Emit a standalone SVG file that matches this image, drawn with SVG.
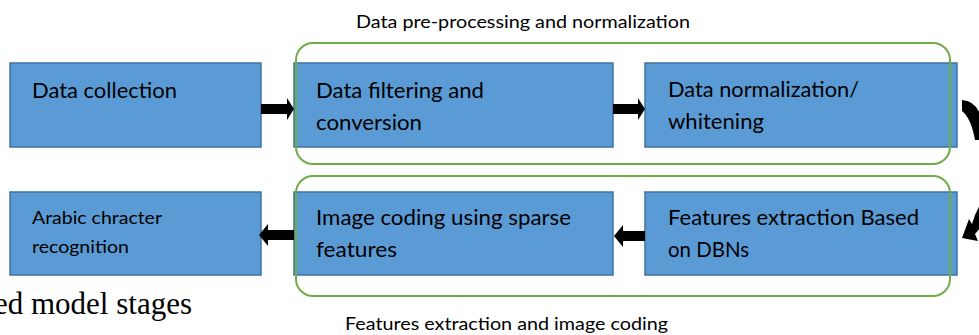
<svg xmlns="http://www.w3.org/2000/svg" width="979" height="335" viewBox="0 0 979 335">
<style>
.box{fill:#5B9BD5;stroke:#41719C;stroke-width:1.5}
.grp{fill:none;stroke:#70AD47;stroke-width:2}
.t{font-family:Lato,"Open Sans","Liberation Sans",sans-serif;font-size:21px;fill:#000}
.ts{font-family:Lato,"Open Sans","Liberation Sans",sans-serif;font-size:17.5px;fill:#000}
.lbl{font-family:Lato,"Open Sans","Liberation Sans",sans-serif;font-size:17px;fill:#000}
.cap{font-family:"Liberation Serif","Times New Roman",serif;font-size:31px;fill:#000}
.arr{fill:#000}
</style>
<rect width="979" height="335" fill="#fff"/>
<text class="cap" x="126" y="-7">g</text>
<text class="cap" x="192" y="314" text-anchor="end">ed model stages</text>

<g id="n1">
<rect class="box" x="10" y="63" width="251" height="84"/>
<text class="t" x="32" y="98" textLength="145" lengthAdjust="spacingAndGlyphs">Data collection</text>
</g>
<g id="n2">
<rect class="box" x="294" y="63" width="319" height="84"/>
<text class="t" x="316" y="98" textLength="168" lengthAdjust="spacingAndGlyphs">Data filtering and</text>
<text class="t" x="316" y="130" textLength="106" lengthAdjust="spacingAndGlyphs">conversion</text>
</g>
<g id="n3">
<rect class="box" x="645" y="63" width="312" height="84"/>
<text class="t" x="668" y="97" textLength="191" lengthAdjust="spacingAndGlyphs">Data normalization/</text>
<text class="t" x="668" y="129" textLength="96" lengthAdjust="spacingAndGlyphs">whitening</text>
</g>
<g id="n4">
<rect class="box" x="10" y="192" width="251" height="83"/>
<text class="ts" x="32" y="224" textLength="130" lengthAdjust="spacingAndGlyphs">Arabic chracter</text>
<text class="ts" x="32" y="253" textLength="97" lengthAdjust="spacingAndGlyphs">recognition</text>
</g>
<g id="n5">
<rect class="box" x="294" y="192" width="319" height="83"/>
<text class="t" x="316" y="225" textLength="255" lengthAdjust="spacingAndGlyphs">Image coding using sparse</text>
<text class="t" x="316" y="257" textLength="81" lengthAdjust="spacingAndGlyphs">features</text>
</g>
<g id="n6">
<rect class="box" x="645" y="192" width="312" height="83"/>
<text class="t" x="668" y="225" textLength="251" lengthAdjust="spacingAndGlyphs">Features extraction Based</text>
<text class="t" x="668" y="257" textLength="81" lengthAdjust="spacingAndGlyphs">on DBNs</text>
</g>

<g id="group-preprocessing">
<rect class="grp" x="296" y="43" width="654" height="121" rx="17"/>
<text class="lbl" x="356" y="28" textLength="334" lengthAdjust="spacingAndGlyphs">Data pre-processing and normalization</text>
</g>
<g id="group-features">
<rect class="grp" x="296" y="176" width="654" height="120" rx="17"/>
<text class="lbl" x="345" y="330" textLength="323" lengthAdjust="spacingAndGlyphs">Features extraction and image coding</text>
</g>

<g id="connectors">
<polygon class="arr" points="261,104 287,104 287,98 294,109 287,120 287,114 261,114"/>
<polygon class="arr" points="613,104 638,104 638,98 645,109 638,120 638,114 613,114"/>
<polygon class="arr" points="645,231 623,231 623,225 614,236 623,247 623,241 645,241"/>
<polygon class="arr" points="294,230 268,230 268,224 259,235 268,246 268,240 294,240"/>
<path class="arr" d="M962,100 Q975,101 980,114 L980,140 L975,140 Q971,118 962,111 Z"/>
<path class="arr" d="M962,238 L969,219 L972,224 Q975,213 980,205 L980,228 Q977,232 975,234 L978,241 Z"/>
</g>
</svg>
